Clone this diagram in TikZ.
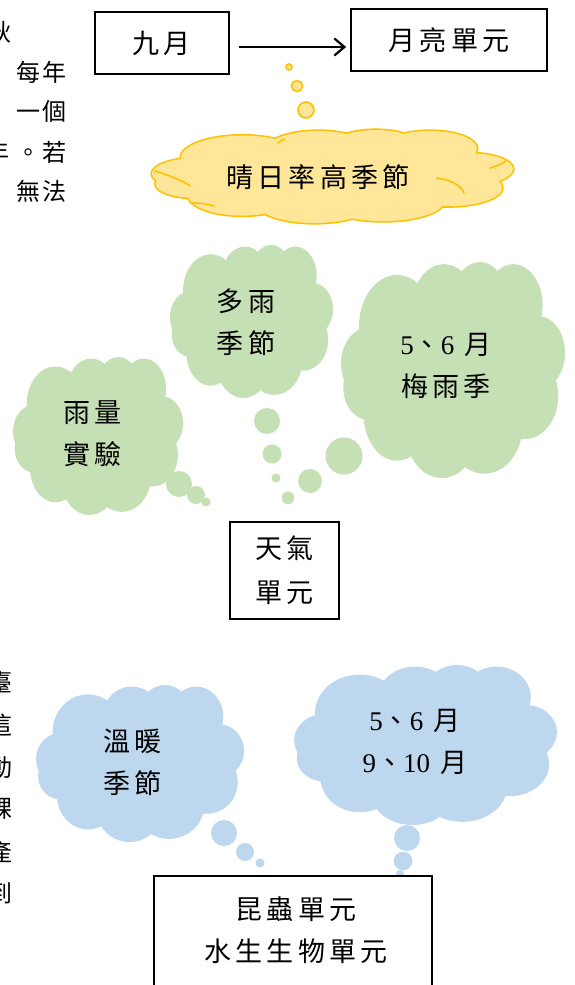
\documentclass[tikz,border=0pt]{standalone}
\usepackage{fontspec}
\setmainfont{Liberation Serif}
\newfontfamily\cjk[LetterSpace=15]{Noto Sans CJK TC}
\newfontfamily\cjkside[LetterSpace=8]{Noto Sans CJK TC}
\usetikzlibrary{arrows.meta}
\definecolor{yfill}{HTML}{FFE699}
\definecolor{yline}{HTML}{FFC000}
\definecolor{gfill}{HTML}{C5E0B4}
\definecolor{bfill}{HTML}{BDD7EE}
\newcommand\dg[1]{{\rmfamily #1}}
% lobes of an Office-like cloud, in a unit box: cx/cy/rx/ry
\newcommand\cloudlobes{0.13/0.47/0.13/0.17, 0.25/0.30/0.17/0.24,
  0.46/0.20/0.14/0.19, 0.62/0.17/0.12/0.17, 0.77/0.20/0.13/0.19,
  0.88/0.42/0.12/0.17, 0.82/0.62/0.15/0.20, 0.64/0.76/0.17/0.22,
  0.45/0.79/0.16/0.21, 0.25/0.70/0.15/0.22, 0.12/0.58/0.11/0.15,
  0.50/0.50/0.36/0.30}
\newcommand\officecloud[5]{%
  \foreach \cx/\cy/\rx/\ry in \cloudlobes {
    \path[#1] ({#2+\cx*#4},{#3+\cy*#5}) ellipse [x radius={\rx*#4}, y radius={\ry*#5}];
  }}
\begin{document}
\begin{tikzpicture}[x=1pt,y=-1pt,
  box/.style={draw,line width=1.8pt,fill=white,inner sep=0pt,
    font=\fontsize{27}{44}\selectfont\cjk,align=center},
  lbl/.style={font=\fontsize{27}{42}\selectfont\cjk,align=center,inner sep=0pt},
  side/.style={font=\fontsize{24}{30}\selectfont\cjkside,inner sep=0pt,anchor=east},
  ybub/.style={fill=yfill,draw=yline,line width=1.6pt},
  yarc/.style={draw=yline,line width=1.6pt,line cap=round},
  gbub/.style={fill=gfill},
  bbub/.style={fill=bfill}]
\useasboundingbox (0,0) rectangle (574,985);

% text fragments at left edge
\node[side] (s1) at (12,32) {秋};
\node[side] (s2) at (67,72) {每年};
\node[side] (s3) at (67,111) {一個};
\node[side] (s4) at (67,152) {年\kern7pt。若};
\node[side] (s5) at (67,191) {無法};
\node[side] (t1) at (13,682) {臺};
\node[side] (t2) at (13,725) {這};
\node[side] (t3) at (13,768) {動};
\node[side] (t4) at (13,808) {課};
\node[side] (t5) at (13,852) {產};
\node[side] (t6) at (13,893) {到};

% top section
\node[box,minimum width=134pt,minimum height=62pt] (sep) at (162,43) {九月};
\node[box,minimum width=196pt,minimum height=62pt] (moon) at (449,40) {月亮單元};
\draw[line width=2.2pt,-{Straight Barb[length=10pt,width=17pt]},shorten <=9pt,shorten >=4pt]
  ([yshift=-4pt]sep.east) -- ([yshift=-7pt]moon.west);

\draw[ybub] (289,67) circle (3);
\draw[ybub] (297,86) circle (5.5);
\draw[ybub] (306,110) circle (8);
\officecloud{draw=yline,line width=3.2pt}{152}{130}{361}{93}
\officecloud{fill=yfill}{152}{130}{361}{93}
% inner arcs of the cloud outline
\path[yarc] (155,171) .. controls (170,176) and (182,180) .. (190,186);
\path[yarc] (193,203) .. controls (200,203) and (208,204) .. (214,206);
\path[yarc] (490,168) .. controls (497,166) and (502,164) .. (506,161);
\path[yarc] (437,178) .. controls (452,180) and (461,186) .. (464,193);
\path[yarc] (278,143) .. controls (280,141) and (282,140) .. (285,139);
\node[lbl] (sunnytxt) at (318,177) {晴日率高季節};

% green section
\officecloud{fill=gfill}{13}{357}{170}{158}
\node[lbl] (g1txt) at (93,434) {雨量\\實驗};
\officecloud{fill=gfill}{170}{245}{163}{153}
\node[lbl] (g2txt) at (246,322) {多雨\\季節};
\officecloud{fill=gfill}{341}{262}{224}{216}
\node[lbl] (g3txt) at (446,366) {\dg{5}、\dg{6} 月\\梅雨季};

\fill[gbub] (179,484) circle (13);
\fill[gbub] (196,495) circle (9);
\fill[gbub] (206,502) circle (4.5);
\fill[gbub] (267,421) circle (13);
\fill[gbub] (272,454) circle (9.5);
\fill[gbub] (276,478) circle (4.5);
\fill[gbub] (288,498) circle (6.3);
\fill[gbub] (310,481) circle (12);
\fill[gbub] (344,456) circle (18.5);

\node[box,minimum width=109pt,minimum height=97pt] (weather) at (284.5,570.5) {天氣\\單元};

% blue section
\officecloud{fill=bfill}{36}{685}{208}{157}
\node[lbl] (b1txt) at (133,762) {溫暖\\季節};
\officecloud{fill=bfill}{294}{665}{263}{160}
\node[lbl] (b2txt) at (415,742) {\dg{5}、\dg{6} 月\\\dg{9}、\dg{10} 月};

\fill[bbub] (224,833) circle (13);
\fill[bbub] (245,852) circle (9);
\fill[bbub] (260,863) circle (4.5);
\fill[bbub] (407,838) circle (13);
\fill[bbub] (403,861) circle (9.3);
\fill[bbub] (400,874) circle (4);

\node[box,minimum width=278pt,minimum height=140pt] (insect) at (293,946) {};
\node[lbl] (insecttxt) at (296,930) {昆蟲單元\\水生生物單元};
\end{tikzpicture}
\end{document}
